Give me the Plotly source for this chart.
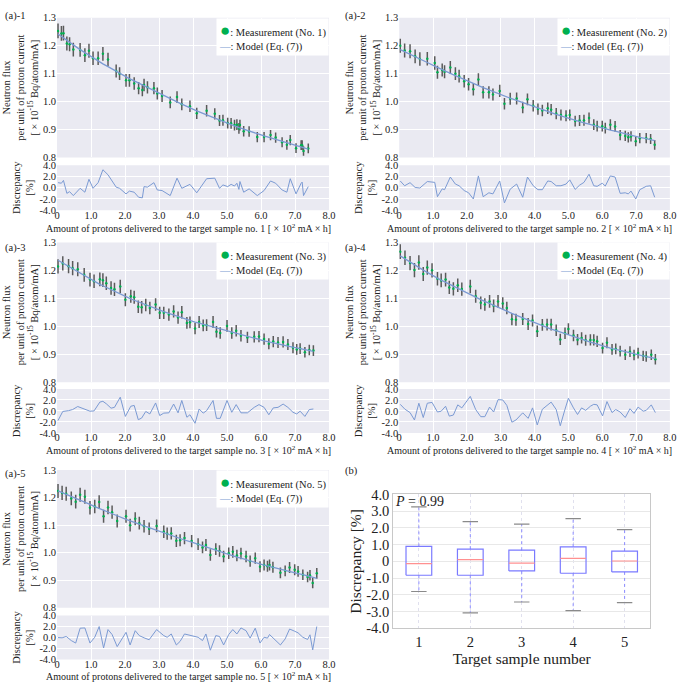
import plotly.graph_objects as go

FONT = "Liberation Serif"

# ---------------- (a)-1 ----------------
x1 = [0.03,0.13,0.19,0.29,0.37,0.48,0.68,0.82,0.94,1.06,1.21,1.35,1.50,1.74,1.84,2.03,2.13,2.27,2.40,2.51,2.56,2.66,2.85,2.95,3.09,3.33,3.53,3.67,3.91,4.11,4.40,4.64,4.78,4.88,5.02,5.12,5.22,5.29,5.35,5.38,5.49,5.65,5.89,6.09,6.28,6.43,6.62,6.76,6.86,7.03,7.18,7.21,7.25,7.39]
meas1 = [1.253,1.244,1.245,1.208,1.205,1.186,1.185,1.166,1.182,1.155,1.155,1.171,1.151,1.109,1.100,1.076,1.076,1.065,1.048,1.041,1.059,1.051,1.048,1.029,1.020,0.997,1.016,0.990,0.983,0.958,0.967,0.956,0.932,0.933,0.923,0.922,0.916,0.917,0.904,0.916,0.894,0.893,0.873,0.873,0.880,0.871,0.854,0.845,0.862,0.833,0.844,0.844,0.823,0.832]
model1 = [1.242,1.234,1.229,1.220,1.213,1.203,1.186,1.175,1.165,1.156,1.145,1.135,1.125,1.108,1.101,1.088,1.082,1.074,1.066,1.060,1.057,1.050,1.039,1.033,1.025,1.011,0.999,0.991,0.977,0.967,0.952,0.940,0.933,0.928,0.921,0.917,0.913,0.910,0.907,0.906,0.901,0.895,0.885,0.877,0.870,0.864,0.857,0.852,0.848,0.842,0.837,0.836,0.835,0.830]
disc1 = [0.9,0.8,1.3,-1.0,-0.7,-1.4,-0.1,-0.8,1.5,-0.1,0.9,3.2,2.3,0.1,-0.1,-1.1,-0.6,-0.8,-1.7,-1.8,0.2,0.1,0.9,-0.4,-0.5,-1.4,1.7,-0.1,0.6,-0.9,1.6,1.7,-0.1,0.5,0.2,0.6,0.3,0.8,-0.3,1.1,-0.8,-0.2,-1.4,-0.5,1.2,0.8,-0.4,-0.8,1.6,-1.1,0.8,1.0,-1.4,0.2]

# ---------------- (a)-2 ----------------
x2 = [0.03,0.16,0.32,0.47,0.61,0.83,1.05,1.13,1.27,1.34,1.51,1.66,1.77,1.92,2.05,2.19,2.34,2.48,2.65,2.77,2.97,3.11,3.28,3.47,3.65,3.79,3.96,4.10,4.23,4.39,4.49,4.64,4.78,4.93,5.04,5.20,5.33,5.46,5.61,5.75,5.85,6.00,6.09,6.24,6.38,6.53,6.68,6.77,6.85,6.99,7.11,7.30,7.43,7.55]
meas2 = [1.200,1.183,1.180,1.162,1.152,1.153,1.138,1.105,1.113,1.107,1.122,1.100,1.091,1.073,1.062,1.044,1.079,1.033,1.033,1.025,1.038,0.992,1.010,1.011,0.979,1.008,0.985,0.973,0.968,0.976,0.971,0.957,0.952,0.949,0.952,0.930,0.932,0.933,0.941,0.917,0.912,0.912,0.905,0.917,0.911,0.880,0.877,0.872,0.875,0.858,0.869,0.869,0.866,0.845]
model2 = [1.186,1.179,1.169,1.161,1.153,1.140,1.127,1.123,1.115,1.111,1.101,1.093,1.087,1.078,1.072,1.065,1.057,1.050,1.042,1.036,1.026,1.020,1.012,1.004,0.996,0.989,0.982,0.976,0.971,0.964,0.960,0.954,0.949,0.943,0.939,0.933,0.928,0.924,0.919,0.914,0.910,0.905,0.902,0.898,0.894,0.889,0.885,0.882,0.880,0.875,0.872,0.867,0.863,0.860]
disc2 = [1.2,0.35,0.9,0.05,-0.05,1.1,0.95,-1.6,-0.2,-0.35,1.9,0.65,0.35,-0.5,-0.9,-2.0,2.1,-1.6,-0.9,-1.1,1.2,-2.7,-0.25,0.65,-1.7,1.9,0.35,-0.35,-0.35,1.2,1.1,0.35,0.35,0.65,1.4,-0.3,0.45,0.95,2.4,0.35,0.25,0.8,0.3,2.1,1.9,-1.0,-0.9,-1.1,-0.6,-2.0,-0.35,0.25,0.35,-1.7]

# ---------------- (a)-3 ----------------
x3 = [0.03,0.17,0.34,0.46,0.61,0.80,0.97,1.09,1.26,1.35,1.45,1.59,1.69,1.86,2.01,2.17,2.27,2.39,2.49,2.61,2.73,2.90,3.02,3.14,3.29,3.43,3.56,3.67,3.82,3.91,4.06,4.18,4.30,4.40,4.59,4.69,4.80,5.00,5.14,5.27,5.41,5.60,5.80,5.94,6.09,6.23,6.36,6.50,6.65,6.79,6.94,7.05,7.15,7.29,7.42,7.54]
meas3 = [1.214,1.225,1.215,1.208,1.204,1.184,1.167,1.161,1.168,1.165,1.154,1.137,1.132,1.142,1.095,1.107,1.104,1.070,1.068,1.076,1.065,1.078,1.048,1.048,1.042,1.053,1.031,1.050,1.012,1.014,0.992,1.015,1.003,1.004,1.015,0.980,0.976,1.001,0.976,0.984,0.966,0.960,0.962,0.963,0.954,0.937,0.945,0.942,0.944,0.935,0.923,0.917,0.920,0.907,0.915,0.913]
model3 = [1.236,1.226,1.214,1.205,1.194,1.180,1.168,1.161,1.150,1.145,1.139,1.131,1.125,1.114,1.106,1.098,1.093,1.087,1.082,1.077,1.071,1.063,1.057,1.052,1.046,1.040,1.035,1.030,1.024,1.021,1.015,1.011,1.007,1.003,0.996,0.993,0.989,0.982,0.978,0.973,0.969,0.963,0.956,0.952,0.948,0.944,0.940,0.936,0.932,0.929,0.925,0.922,0.920,0.916,0.913,0.910]
disc3 = [-1.75,-0.1,0.05,0.25,0.8,0.35,-0.05,0.0,1.6,1.75,1.3,0.5,0.65,2.5,-1.0,0.85,1.0,-1.6,-1.3,-0.1,-0.55,1.45,-0.85,-0.4,-0.35,1.25,-0.35,1.9,-1.15,-0.7,-2.25,0.35,-0.4,0.05,1.9,-1.35,-1.35,1.9,-0.25,1.15,-0.35,-0.35,0.65,1.15,0.65,-0.7,0.55,0.65,1.25,0.65,-0.25,-0.55,-0.05,-1.0,0.25,0.35]

# ---------------- (a)-4 ----------------
x4 = [0.03,0.17,0.32,0.45,0.58,0.71,0.83,0.97,1.13,1.24,1.37,1.48,1.60,1.73,1.85,2.10,2.26,2.41,2.53,2.67,2.79,2.92,3.06,3.18,3.33,3.45,3.65,3.81,3.94,4.08,4.23,4.37,4.49,4.64,4.76,4.90,5.00,5.15,5.27,5.39,5.51,5.65,5.75,5.85,6.01,6.14,6.29,6.40,6.53,6.68,6.82,6.94,7.06,7.21,7.30,7.45,7.57]
meas4 = [1.267,1.245,1.226,1.201,1.228,1.187,1.210,1.200,1.170,1.164,1.167,1.139,1.134,1.147,1.133,1.142,1.107,1.084,1.078,1.089,1.073,1.089,1.081,1.065,1.025,1.023,1.026,1.008,1.021,0.982,1.005,1.006,1.006,0.986,0.953,0.975,0.990,0.967,0.952,0.958,0.950,0.951,0.951,0.946,0.922,0.941,0.917,0.919,0.911,0.898,0.909,0.897,0.904,0.894,0.892,0.898,0.882]
model4 = [1.252,1.241,1.230,1.221,1.211,1.201,1.193,1.182,1.172,1.165,1.157,1.150,1.143,1.135,1.127,1.113,1.104,1.095,1.089,1.081,1.075,1.067,1.060,1.054,1.046,1.040,1.030,1.022,1.015,1.008,1.002,0.996,0.990,0.984,0.979,0.972,0.968,0.962,0.958,0.953,0.949,0.943,0.940,0.936,0.930,0.925,0.920,0.917,0.913,0.909,0.905,0.901,0.898,0.894,0.891,0.888,0.885]
disc4 = [1.2,0.3,-0.3,-1.65,1.4,-1.2,1.4,1.55,-0.2,-0.05,0.85,-0.95,-0.75,1.1,0.55,2.65,0.25,-1.05,-1.05,0.7,-0.2,2.05,2.0,1.0,-2.05,-1.65,-0.35,-1.35,0.55,-2.55,0.3,1.0,1.6,0.25,-2.7,0.3,2.3,0.55,-0.65,0.55,0.1,0.85,1.2,1.1,-0.9,1.7,-0.3,0.25,-0.2,-1.2,0.4,-0.45,0.7,-0.05,0.1,1.1,-0.3]

# ---------------- (a)-5 ----------------
x5 = [0.03,0.15,0.27,0.42,0.55,0.68,0.82,0.97,1.11,1.24,1.37,1.50,1.62,1.77,2.03,2.15,2.30,2.42,2.56,2.71,2.93,3.14,3.24,3.36,3.51,3.62,3.75,3.96,4.15,4.28,4.38,4.51,4.67,4.78,4.90,5.05,5.17,5.29,5.41,5.56,5.68,5.83,5.97,6.09,6.19,6.25,6.35,6.57,6.71,6.84,6.99,7.09,7.23,7.37,7.44,7.52,7.64]
meas5 = [1.224,1.217,1.214,1.197,1.185,1.210,1.203,1.163,1.168,1.184,1.132,1.164,1.147,1.115,1.132,1.100,1.123,1.107,1.096,1.087,1.097,1.076,1.069,1.070,1.043,1.045,1.053,1.042,1.031,1.019,1.028,0.992,1.013,1.006,0.986,0.998,1.003,0.990,0.997,0.986,0.969,0.980,0.949,0.955,0.951,0.955,0.947,0.927,0.934,0.946,0.938,0.932,0.920,0.912,0.918,0.890,0.925]
model5 = [1.224,1.218,1.212,1.204,1.197,1.190,1.182,1.175,1.167,1.161,1.154,1.147,1.141,1.134,1.121,1.115,1.109,1.103,1.097,1.091,1.081,1.072,1.068,1.063,1.057,1.052,1.046,1.038,1.030,1.025,1.021,1.015,1.009,1.004,0.999,0.993,0.989,0.984,0.980,0.974,0.970,0.964,0.959,0.955,0.952,0.950,0.947,0.940,0.936,0.932,0.927,0.924,0.920,0.915,0.913,0.910,0.907]
disc5 = [0.0,-0.05,0.2,-0.55,-1.0,1.7,1.75,-1.0,0.05,2.0,-1.9,1.45,0.55,-1.65,0.95,-1.35,1.25,0.35,-0.05,-0.4,1.45,0.35,0.05,0.65,-1.35,-0.7,0.65,0.35,0.05,-0.55,0.65,-2.3,0.35,0.2,-1.35,0.55,1.45,0.65,1.75,1.25,-0.1,1.7,-1.0,0.05,-0.1,0.55,0.0,-1.35,-0.25,1.55,1.15,0.85,0.05,-0.35,0.5,-2.25,2.0]

meas_unc_pct = 2.1  # measurement uncertainty [%]

# ---------------- (b) box-plot statistics ----------------
samples = [1, 2, 3, 4, 5]
box_lower = [-1.80, -3.08, -2.43, -2.94, -2.47]
box_q1 = [-0.83, -0.83, -0.57, -0.71, -0.63]
box_median = [-0.14, 0.10, -0.10, 0.18, 0.02]
box_q3 = [0.89, 0.73, 0.67, 0.87, 0.61]
box_upper = [3.26, 2.37, 2.23, 2.55, 1.90]
p_value = 0.99

x_ticks = [0, 1, 2, 3, 4, 5, 6, 7, 8]
x_ticktext = ["0", "1.0", "2.0", "3.0", "4.0", "5.0", "6.0", "7.0", "8.0"]
d_ticks = [-4, -2, 0, 2, 4]
d_ticktext = ["-4.0", "-2.0", "0.0", "2.0", "4.0"]
b_ticks = [-4, -3, -2, -1, 0, 1, 2, 3, 4]
b_ticktext = ["-4.0", "-3.0", "-2.0", "-1.0", "0", "1.0", "2.0", "3.0", "4.0"]

# ---------------- styling ----------------
BG = "#EAEAF2"
GREEN = "#00b050"
ERR = "#5a5a5a"
MODEL = "#7b9ad3"
TXT = "#222222"

col_dom = [[0.080, 0.483], [0.587, 0.988]]
row_main = [[0.7783, 0.9855], [0.4449, 0.6522], [0.1101, 0.3145]]
row_disc = [[0.700, 0.7667], [0.3696, 0.4348], [0.0333, 0.0986]]
xtitle_x = [0.2745, 0.7796]
xtitle_y = [0.6739, 0.3435, 0.0087]
label_pos = [(0.0, 1.0), (0.504, 1.0), (0.0, 0.6565), (0.504, 0.6565), (0.0, 0.320)]

panels = [
    (1, x1, meas1, model1, disc1, 0, 0),
    (2, x2, meas2, model2, disc2, 1, 0),
    (3, x3, meas3, model3, disc3, 0, 1),
    (4, x4, meas4, model4, disc4, 1, 1),
    (5, x5, meas5, model5, disc5, 0, 2),
]

fig = go.Figure()
layout = dict(
    width=685, height=690,
    margin=dict(l=0, r=0, t=0, b=0),
    paper_bgcolor="white", plot_bgcolor="white",
    font=dict(family=FONT, size=10, color=TXT),
    showlegend=False,
)
shapes = []
annotations = []


def ref(letter, n):
    return letter if n == 1 else f"{letter}{n}"


def akey(letter, n):
    return f"{letter}axis" if n == 1 else f"{letter}axis{n}"


tickfont = dict(family=FONT, size=10.5, color=TXT)

for k, (no, xs, ms, mo, ds, col, row) in enumerate(panels):
    m = 2 * k + 1
    d = 2 * k + 2
    fig.add_trace(go.Scatter(
        x=xs, y=ms, mode="markers", xaxis=ref("x", m), yaxis=ref("y", m),
        marker=dict(color=GREEN, size=2.5),
        error_y=dict(type="percent", value=meas_unc_pct, color=ERR, thickness=1.5, width=0),
        name=f"Measurement (No. {no})",
    ))
    fig.add_trace(go.Scatter(
        x=xs, y=mo, mode="lines", xaxis=ref("x", m), yaxis=ref("y", m),
        line=dict(color=MODEL, width=1.3), name="Model (Eq. (7))",
    ))
    fig.add_trace(go.Scatter(
        x=xs, y=ds, mode="lines", xaxis=ref("x", d), yaxis=ref("y", d),
        line=dict(color=MODEL, width=1), name=f"Discrepancy No. {no}",
    ))

    layout[akey("x", m)] = dict(
        domain=col_dom[col], anchor=ref("y", m), range=[0, 8], tickvals=x_ticks,
        showticklabels=False, showgrid=True, gridcolor="white", gridwidth=1,
        zeroline=False, showline=False, ticks="", ticklen=0,
    )
    layout[akey("y", m)] = dict(
        domain=row_main[row], anchor=ref("x", m), range=[0.8, 1.3], dtick=0.1, tick0=0.8,
        tickformat=".1f", showgrid=True, gridcolor="white", gridwidth=1, zeroline=False,
        showline=False, ticks="", ticklen=0, tickfont=tickfont,
        title=dict(text="Neutron flux<br>per unit of proton current<br>[ × 10<sup>-15</sup> Bq/atom/mA]",
                   font=dict(family=FONT, size=10.5, color=TXT), standoff=2),
    )
    layout[akey("x", d)] = dict(
        domain=col_dom[col], anchor=ref("y", d), range=[0, 8], tickvals=x_ticks,
        ticktext=x_ticktext, showgrid=True, gridcolor="white", gridwidth=1, zeroline=False,
        showline=False, ticks="", ticklen=0, ticklabelstandoff=-3, tickfont=tickfont,
    )
    layout[akey("y", d)] = dict(
        domain=row_disc[row], anchor=ref("x", d), range=[-4, 4], tickvals=d_ticks,
        ticktext=d_ticktext, showgrid=True, gridcolor="white", gridwidth=1, zeroline=False,
        showline=False, ticks="", ticklen=0, tickfont=tickfont,
        title=dict(text="Discrepancy<br>[%]", font=dict(family=FONT, size=10.5, color=TXT), standoff=3),
    )
    for n in (m, d):
        shapes.append(dict(type="rect", xref=f"{ref('x', n)} domain", yref=f"{ref('y', n)} domain",
                           x0=0, x1=1, y0=0, y1=1, fillcolor=BG, line=dict(width=0), layer="below"))
    # x-axis title of the discrepancy panel
    annotations.append(dict(
        text=f"Amount of protons delivered to the target sample no. {no} [ × 10<sup>2</sup> mA × h]",
        x=xtitle_x[col], y=xtitle_y[row], xref="paper", yref="paper",
        xanchor="center", yanchor="middle", showarrow=False,
        font=dict(family=FONT, size=10, color=TXT),
    ))
    # legend box (top-right of the flux panel)
    leg_text = (f'<span style="color:{GREEN};font-size:17px">●</span>: Measurement (No. {no})<br>'
                f'<span style="color:{MODEL}">—</span>: Model (Eq. (7))')
    annotations.append(dict(
        text=leg_text, x=1.0, y=1.0, xref=f"{ref('x', m)} domain", yref=f"{ref('y', m)} domain",
        xanchor="right", yanchor="top", align="left", showarrow=False, bgcolor="white",
        borderpad=2, font=dict(family=FONT, size=10.5, color=TXT),
    ))
    lx, ly = label_pos[k]
    annotations.append(dict(text=f"(a)-{no}", x=lx, y=ly, xref="paper", yref="paper",
                            xanchor="left", yanchor="top", showarrow=False,
                            font=dict(family=FONT, size=10.5, color=TXT)))

# ---------------- (b) box plot ----------------
bn = 11
hw = 0.25
cw = 0.15
bx, by, mx_, my_, wx, wy, cx, cy = [], [], [], [], [], [], [], []
for s, lo, a, md, b, hi in zip(samples, box_lower, box_q1, box_median, box_q3, box_upper):
    bx += [s - hw, s + hw, s + hw, s - hw, s - hw, None]
    by += [a, a, b, b, a, None]
    mx_ += [s - hw, s + hw, None]
    my_ += [md, md, None]
    wx += [s, s, None, s, s, None]
    wy += [b, hi, None, a, lo, None]
    cx += [s - cw, s + cw, None, s - cw, s + cw, None]
    cy += [hi, hi, None, lo, lo, None]

fig.add_trace(go.Scatter(x=wx, y=wy, mode="lines", xaxis=f"x{bn}", yaxis=f"y{bn}",
                         line=dict(color="#8c8cff", width=1, dash="dot"), name="whisker"))
fig.add_trace(go.Scatter(x=cx, y=cy, mode="lines", xaxis=f"x{bn}", yaxis=f"y{bn}",
                         line=dict(color="#8a8a8a", width=1.2), name="cap"))
fig.add_trace(go.Scatter(x=bx, y=by, mode="lines", xaxis=f"x{bn}", yaxis=f"y{bn}",
                         line=dict(color="#7a7aff", width=1.2), name="IQR"))
fig.add_trace(go.Scatter(x=mx_, y=my_, mode="lines", xaxis=f"x{bn}", yaxis=f"y{bn}",
                         line=dict(color="#ff9090", width=1.2), name="median"))

layout[akey("x", bn)] = dict(
    domain=[0.578, 0.959], anchor=f"y{bn}", range=[0.5, 5.5], tickvals=samples,
    showgrid=True, gridcolor="#e0e0ee", griddash="dot", zeroline=False,
    showline=True, mirror=True, linecolor="#c8c8c8", linewidth=1, ticks="", ticklen=0,
    tickfont=dict(family=FONT, size=14.5, color=TXT),
    title=dict(text="Target sample number", font=dict(family=FONT, size=15.5, color=TXT), standoff=0),
)
layout[akey("y", bn)] = dict(
    domain=[0.0797, 0.2783], anchor=f"x{bn}", range=[-4, 4], tickvals=b_ticks, ticktext=b_ticktext,
    showgrid=True, gridcolor="#e8e8e8", zeroline=False,
    showline=True, mirror=True, linecolor="#c8c8c8", linewidth=1, ticks="", ticklen=0,
    tickfont=dict(family=FONT, size=14.5, color=TXT),
    title=dict(text="Discrepancy [%]", font=dict(family=FONT, size=15.5, color=TXT), standoff=0),
)
annotations.append(dict(text=f"<i>P</i> = {p_value:.2f}", x=0.0, y=1.02, xref=f"x{bn} domain",
                        yref=f"y{bn} domain", xanchor="left", yanchor="top", showarrow=False,
                        font=dict(family=FONT, size=14, color=TXT)))
annotations.append(dict(text="(b)", x=0.504, y=0.325, xref="paper", yref="paper",
                        xanchor="left", yanchor="top", showarrow=False,
                        font=dict(family=FONT, size=10.5, color=TXT)))

layout["shapes"] = shapes
layout["annotations"] = annotations
fig.update_layout(**layout)
fig.write_html("out.html", config={"displayModeBar": False},
               post_script="document.body.style.margin='0';")
